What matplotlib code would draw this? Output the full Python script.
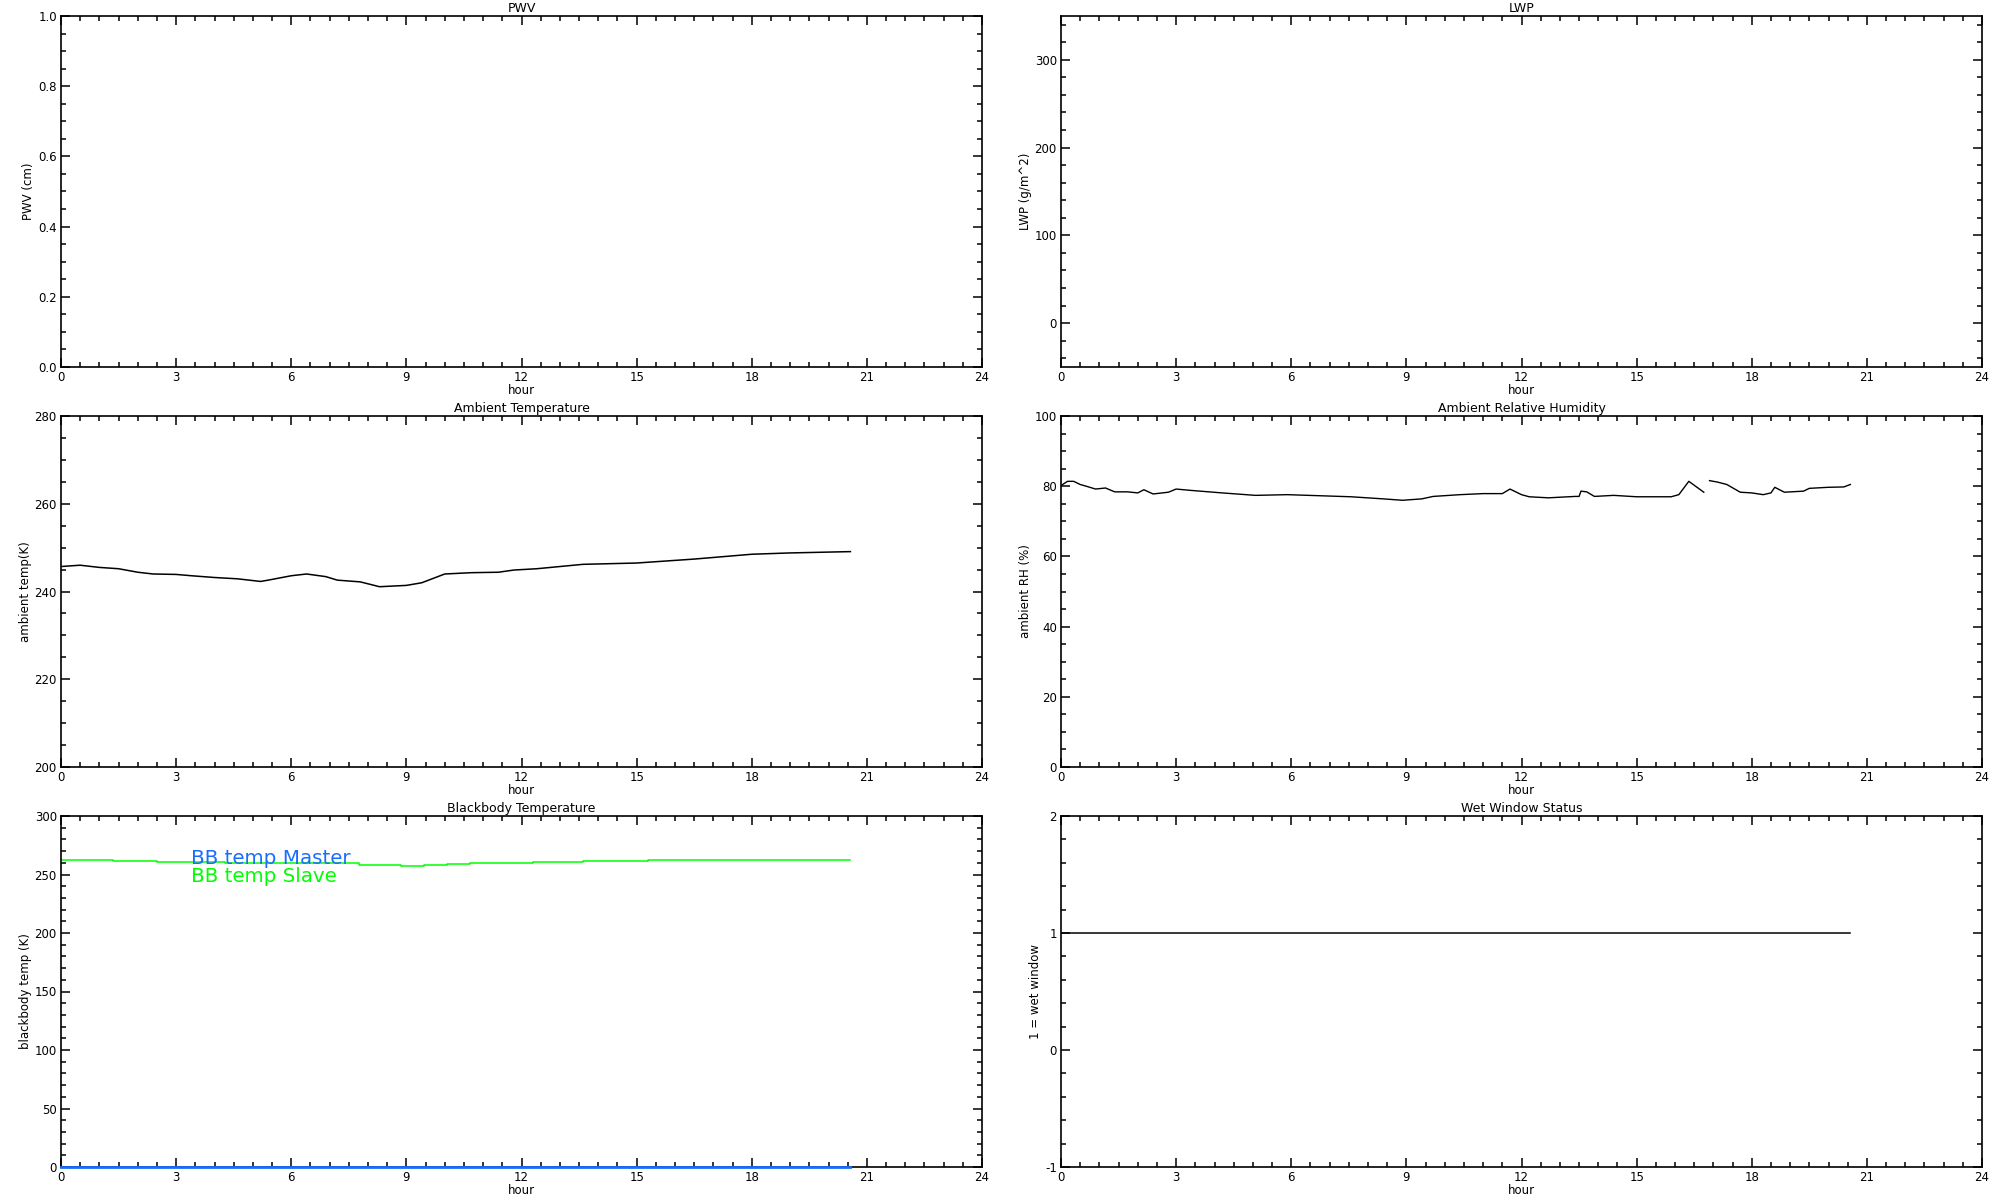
import numpy as np
import matplotlib
matplotlib.use('Agg')
import matplotlib.pyplot as plt
from matplotlib.ticker import MultipleLocator, FormatStrFormatter

plt.rcParams['font.family'] = ['DejaVu Sans']

# ambient temperature (K) vs hour
temp_hour = [0.0, 0.5, 1.0, 1.5, 2.0, 2.4, 3.0, 3.4, 4.0, 4.6, 5.2, 5.4, 6.0, 6.4,
             6.9, 7.2, 7.8, 8.3, 9.0, 9.4, 10.0, 10.7, 11.4, 11.8, 12.4, 13.6,
             15.0, 16.5, 18.0, 19.0, 20.57]
temp_k = [245.7, 246.0, 245.5, 245.2, 244.4, 244.0, 243.9, 243.6, 243.2, 242.9,
          242.3, 242.6, 243.6, 244.0, 243.4, 242.6, 242.2, 241.1, 241.4, 242.0,
          244.0, 244.3, 244.4, 244.9, 245.2, 246.2, 246.5, 247.4, 248.5, 248.8, 249.1]

# ambient relative humidity (%) vs hour
rh_hour = [0.0, 0.17, 0.33, 0.5, 0.66, 0.9, 1.16, 1.4, 1.74, 2.0, 2.16, 2.4, 2.8,
           3.0, 3.4, 4.2, 5.07, 5.9, 6.73, 7.56, 8.4, 8.9, 9.4, 9.7, 10.4, 11.0,
           11.5, 11.7, 12.0, 12.2, 12.7, 13.4, 13.5, 13.55, 13.7, 13.9, 14.4, 15.0,
           15.9, 16.1, 16.36, 16.75, np.nan, 16.9, 17.1, 17.35, 17.7, 18.0, 18.3,
           18.5, 18.6, 18.85, 19.35, 19.5, 20.0, 20.4, 20.57]
rh_pct = [80.2, 81.4, 81.4, 80.5, 80.0, 79.2, 79.5, 78.4, 78.4, 78.1, 79.0, 77.8,
          78.3, 79.2, 78.8, 78.1, 77.4, 77.6, 77.3, 77.0, 76.4, 76.0, 76.4, 77.1,
          77.6, 77.9, 77.9, 79.2, 77.6, 77.0, 76.7, 77.1, 77.1, 78.6, 78.4, 77.1,
          77.4, 77.0, 77.0, 77.6, 81.4, 78.3, np.nan, 81.6, 81.2, 80.5, 78.3, 78.1,
          77.6, 78.1, 79.7, 78.3, 78.6, 79.4, 79.7, 79.8, 80.5]

# blackbody temperatures (K)
bb_slave_hour = [0.0, 1.35, 2.5, 4.27, 7.77, 8.85, 9.47, 10.07, 10.67, 12.3, 13.6,
                 15.3, 17.2, 20.57]
bb_slave_k = [262.6, 261.8, 260.9, 259.5, 258.4, 257.5, 258.4, 259.2, 260.1, 260.9,
              261.8, 262.3, 262.8, 262.8]
bb_master_hour = [0.0, 20.57]
bb_master_k = [0.0, 0.0]

# wet window flag
wet_hour = [0.0, 20.57]
wet_flag = [1, 1]

blue = '#1a6cff'
green = '#00ff00'

fig = plt.figure(figsize=(20, 12), dpi=100)

col_left = [0.0305, 0.5305]
width = 0.4605
row_bottom = [0.6942, 0.3608, 0.0275]
height = 0.2925


def make_axes(left, bottom, title, ylabel, ylim, ymajor, yminor, yfmt):
    ax = fig.add_axes([left, bottom, width, height])
    ax.set_xlim(0, 24)
    ax.set_ylim(*ylim)
    ax.xaxis.set_major_locator(MultipleLocator(3))
    ax.xaxis.set_minor_locator(MultipleLocator(0.5))
    ax.yaxis.set_major_locator(MultipleLocator(ymajor))
    ax.yaxis.set_minor_locator(MultipleLocator(yminor))
    ax.yaxis.set_major_formatter(FormatStrFormatter(yfmt))
    ax.tick_params(which='both', direction='in', top=True, right=True,
                   width=1.1, labelsize=8.5, pad=3)
    ax.tick_params(which='major', length=6.5)
    ax.tick_params(which='minor', length=3.5)
    for s in ax.spines.values():
        s.set_linewidth(1.2)
    ax.set_title(title, fontsize=9, pad=3)
    ax.set_xlabel('hour', fontsize=8.5, labelpad=0)
    ax.set_ylabel(ylabel, fontsize=8.5, labelpad=2)
    return ax


ax1 = make_axes(col_left[0], row_bottom[0], 'PWV', 'PWV (cm)', (0, 1), 0.2, 0.05, '%.1f')
ax2 = make_axes(col_left[1], row_bottom[0], 'LWP', 'LWP (g/m^2)', (-50, 350), 100, 20, '%d')
ax2.set_yticks([0, 100, 200, 300])

ax3 = make_axes(col_left[0], row_bottom[1], 'Ambient Temperature', 'ambient temp(K)',
                (200, 280), 20, 5, '%d')
ax3.plot(temp_hour, temp_k, color='black', lw=1.1)

ax4 = make_axes(col_left[1], row_bottom[1], 'Ambient Relative Humidity', 'ambient RH (%)',
                (0, 100), 20, 5, '%d')
ax4.plot(rh_hour, rh_pct, color='black', lw=1.0)

ax5 = make_axes(col_left[0], row_bottom[2], 'Blackbody Temperature', 'blackbody temp (K)',
                (0, 300), 50, 10, '%d')
ax5.plot(bb_master_hour, bb_master_k, color=blue, lw=2, clip_on=False, zorder=5)
ax5.step(bb_slave_hour, bb_slave_k, where='post', color=green, lw=1.1)
ax5.text(3.4, 272, 'BB temp Master', color=blue, fontsize=14.3, va='top')
ax5.text(3.4, 256, 'BB temp Slave', color=green, fontsize=14.3, va='top')

ax6 = make_axes(col_left[1], row_bottom[2], 'Wet Window Status', '1 = wet window',
                (-1, 2), 1, 0.2, '%d')
ax6.plot(wet_hour, wet_flag, color='black', lw=1.1)

fig.savefig('out.png', dpi=100)
